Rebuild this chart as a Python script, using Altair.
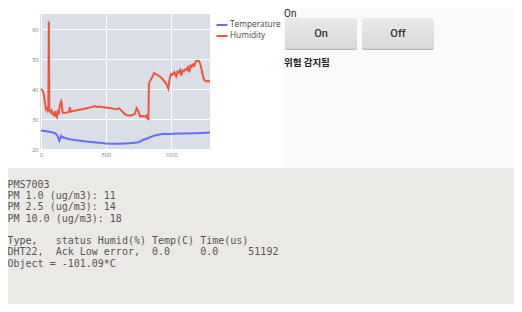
import altair as alt
import pandas as pd

# ---------------- data ----------------
hum_x = [0, 10, 20, 30, 38, 45, 52, 56, 58, 60, 62, 64, 68, 75, 82, 90, 100, 108, 115, 122,
         128, 135, 142, 150, 155, 160, 166, 175, 190, 205, 215, 222, 226, 230, 240, 260, 290,
         320, 350, 380, 400, 415, 430, 450, 480, 510, 540, 560, 580, 600, 620, 640, 660, 690,
         720, 736, 750, 762, 780, 800, 810, 818, 826, 830, 835, 850, 870, 885, 900, 930, 960,
         979, 990, 1000, 1010, 1025, 1040, 1050, 1060, 1070, 1080, 1090, 1100, 1110, 1120,
         1130, 1140, 1150, 1160, 1170, 1180, 1190, 1200, 1215, 1225, 1235, 1245, 1255, 1270,
         1285, 1300]
hum_y = [40.0, 39.6, 38.5, 35.5, 33.2, 33.6, 32.8, 33.5, 48.0, 62.5, 48.0, 33.5, 32.6, 32.2,
         32.8, 31.6, 31.2, 32.6, 31.0, 30.6, 33.0, 31.5, 33.8, 35.6, 36.0, 34.2, 32.2, 32.0,
         32.1, 32.3, 32.4, 34.0, 32.6, 32.5, 32.7, 32.8, 33.1, 33.3, 33.6, 33.9, 34.1, 34.3,
         34.0, 34.2, 33.9, 33.8, 33.6, 33.4, 33.3, 33.6, 32.8, 31.8, 31.3, 31.2, 31.6, 33.6,
         32.5, 30.9, 31.0, 30.8, 31.2, 30.2, 30.0, 41.5, 42.4, 43.5, 45.4, 45.0, 44.6, 43.6,
         42.0, 40.2, 43.5, 45.0, 44.8, 45.6, 44.2, 45.8, 45.5, 46.3, 44.5, 46.2, 46.0, 46.6,
         46.4, 47.2, 45.6, 47.8, 47.4, 48.2, 47.8, 49.2, 49.4, 49.3, 48.5, 46.5, 44.5, 43.0,
         42.6, 42.7, 42.5]
temp_x = [0, 30, 60, 90, 110, 125, 135, 141, 148, 155, 160, 180, 220, 260, 300, 350, 400, 450,
          500, 550, 600, 650, 700, 750, 787, 820, 864, 900, 941, 980, 1020, 1069, 1120, 1180,
          1240, 1300]
temp_y = [26.2, 26.0, 25.8, 25.5, 25.2, 24.6, 23.5, 22.8, 23.6, 24.4, 24.1, 23.8, 23.3, 23.0,
          22.8, 22.5, 22.3, 22.1, 21.9, 21.8, 21.8, 21.9, 22.0, 22.3, 23.1, 23.6, 24.4, 24.8,
          25.1, 25.0, 25.1, 25.2, 25.2, 25.3, 25.4, 25.5]

series_names = ["Temperature", "Humidity"]
series_colors = ["#636efa", "#ef553b"]
x_ticks = [0, 500, 1000]
y_ticks = [20, 30, 40, 50, 60]

status_label = "On"
button_labels = ["On", "Off"]
alert_text = "위험 감지됨"
pm_lines = [
    "PMS7003",
    "PM 1.0 (ug/m3): 11",
    "PM 2.5 (ug/m3): 14",
    "PM 10.0 (ug/m3): 18",
]
dht_lines = [
    "Type,   status Humid(%) Temp(C) Time(us)",
    "DHT22,  Ack Low error,  0.0     0.0     51192",
    "Object = -101.09*C",
]

# ---------------- build ----------------
df = pd.concat([
    pd.DataFrame({"t": temp_x, "v": temp_y, "series": series_names[0]}),
    pd.DataFrame({"t": hum_x, "v": hum_y, "series": series_names[1]}),
], ignore_index=True)

one = pd.DataFrame({"k": [0]})
NB = "\u00a0"

axis_common = dict(title=None, labelFontSize=5.5, labelColor="#777777", labelFont="Open Sans",
                   ticks=False, domain=False, gridColor="#ffffff", gridWidth=1)

lines = alt.Chart(df).mark_line(strokeWidth=2, clip=True).encode(
    x=alt.X("t:Q", scale=alt.Scale(domain=[-8, 1300], nice=False, zero=False),
            axis=alt.Axis(values=x_ticks, format="d", labelPadding=2, **axis_common)),
    y=alt.Y("v:Q", scale=alt.Scale(domain=[19.7, 65], nice=False, zero=False),
            axis=alt.Axis(values=y_ticks, format="d", labelPadding=2, **axis_common)),
    color=alt.Color("series:N", scale=alt.Scale(domain=series_names, range=series_colors),
                    legend=alt.Legend(title=None, orient="none", legendX=175.5, legendY=4.5,
                                      symbolType="stroke", symbolSize=120, symbolStrokeWidth=2,
                                      labelFontSize=8.3, labelColor="#444444",
                                      labelFont="Open Sans", labelOffset=1.5, rowPadding=0,
                                      padding=0)),
)

right_panel = alt.Chart(one).mark_rect(color="#fafafa").encode(
    x=alt.value(243), x2=alt.value(474), y=alt.value(-6), y2=alt.value(153))
bottom_panel = alt.Chart(one).mark_rect(color="#ebe9e5").encode(
    x=alt.value(-32), x2=alt.value(474), y=alt.value(154), y2=alt.value(290))

status = alt.Chart(one).mark_text(text=status_label, align="left", baseline="middle",
                                  fontSize=10, font="Roboto", color="#222222").encode(
    x=alt.value(244), y=alt.value(-0.5))

grad = alt.Gradient(gradient="linear", x1=0, y1=0, x2=0, y2=1,
                    stops=[alt.GradientStop(color="#e9e9e9", offset=0),
                           alt.GradientStop(color="#d9d9d9", offset=1)])

def button(x0, x1, label):
    shadow = alt.Chart(one).mark_rect(color="#b9b9b9", cornerRadius=2).encode(
        x=alt.value(x0), x2=alt.value(x1), y=alt.value(4.8), y2=alt.value(36))
    face = alt.Chart(one).mark_rect(color=grad, cornerRadius=2).encode(
        x=alt.value(x0), x2=alt.value(x1), y=alt.value(4.3), y2=alt.value(34.8))
    txt = alt.Chart(one).mark_text(text=label, align="center", baseline="middle", fontSize=11,
                                   font="Roboto", fontWeight=500, color="#333333").encode(
        x=alt.value((x0 + x1) / 2), y=alt.value(20))
    return [shadow, face, txt]

alert = alt.Chart(one).mark_text(text=alert_text, align="left", baseline="middle", fontSize=9.5,
                                 font="Noto Sans CJK KR", fontWeight="bold",
                                 color="#222222").encode(
    x=alt.value(244), y=alt.value(49))

def text_block(rows, top):
    return alt.Chart(one).mark_text(text=[r.replace(" ", NB) for r in rows], align="left",
                                    baseline="top", fontSize=10, lineHeight=11.3,
                                    font="DejaVu Sans Mono", color="#555555").encode(
        x=alt.value(-32.5), y=alt.value(top))

log1 = text_block(pm_lines, 165.7)
log2 = text_block(dht_lines, 165.7 + 5 * 11.3)

layers = [right_panel, bottom_panel, lines, status] + button(245, 317, button_labels[0]) \
    + button(322, 394, button_labels[1]) + [alert, log1, log2]

chart = alt.layer(*layers).properties(
    width=170, height=136,
    padding={"left": 32, "top": 6, "right": 304, "bottom": 154},
    autosize=alt.AutoSizeParams(type="none"),
    background="#ffffff",
).configure_view(fill="#d9dee7", strokeWidth=0)

chart.save("out.html", embed_options={"renderer": "svg", "actions": False})
